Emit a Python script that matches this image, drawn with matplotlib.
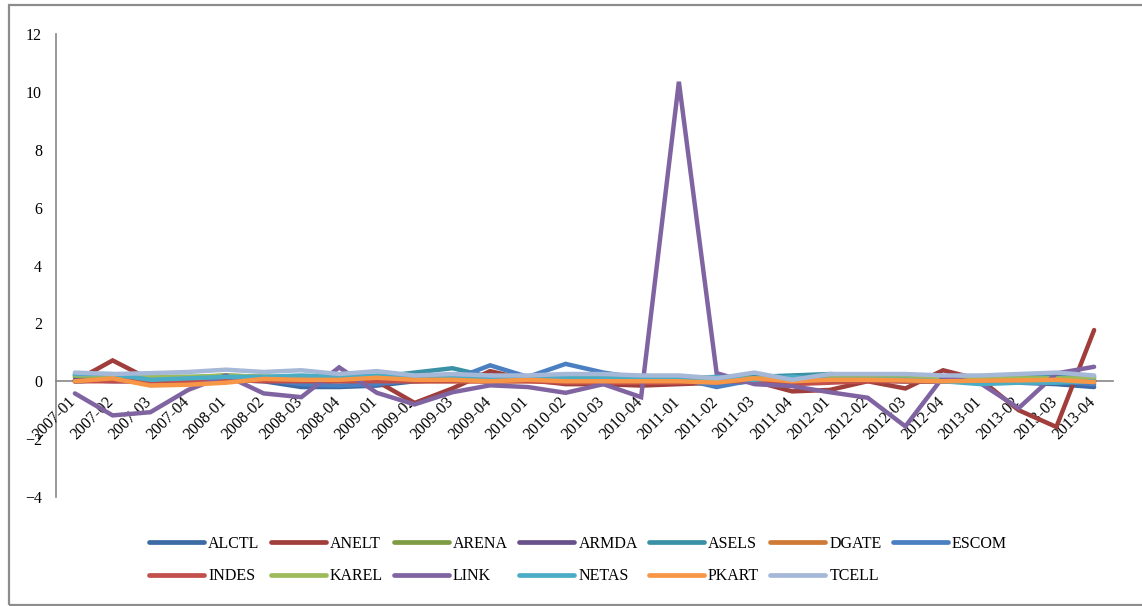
import matplotlib
matplotlib.use("Agg")
import matplotlib.pyplot as plt
import matplotlib.transforms as mtransforms
from matplotlib.patches import Rectangle

plt.rcParams['font.family'] = ['Liberation Serif', 'DejaVu Serif']
plt.rcParams['font.size'] = 11.5

quarters = ['2007-01', '2007-02', '2007-03', '2007-04',
            '2008-01', '2008-02', '2008-03', '2008-04',
            '2009-01', '2009-02', '2009-03', '2009-04',
            '2010-01', '2010-02', '2010-03', '2010-04',
            '2011-01', '2011-02', '2011-03', '2011-04',
            '2012-01', '2012-02', '2012-03', '2012-04',
            '2013-01', '2013-02', '2013-03', '2013-04']

alctl = [0.0, 0.05, 0.05, 0.0, 0.05, 0.0, -0.2, -0.2, -0.15, 0.0, 0.05, 0.0, 0.05, 0.05,
         0.05, 0.0, 0.0, -0.1, 0.0, 0.05, 0.05, 0.05, 0.0, 0.0, 0.0, -0.05, -0.1, -0.2]
anelt = [0.0, 0.72, 0.05, 0.05, 0.2, 0.05, 0.0, 0.05, 0.0, -0.75, -0.25, 0.35, 0.05, -0.1,
         -0.1, -0.15, -0.1, -0.05, 0.0, -0.35, -0.3, 0.0, -0.25, 0.38, 0.05, -1.0, -1.58, 1.77]
arena = [0.15, 0.15, 0.1, 0.12, 0.2, 0.15, 0.1, 0.1, 0.1, 0.1, 0.1, 0.05, 0.05, 0.1,
         0.05, 0.05, 0.05, 0.0, 0.05, 0.05, 0.05, 0.05, 0.05, 0.05, 0.05, 0.05, 0.05, 0.05]
armda = [0.05, 0.0, 0.0, 0.05, 0.1, 0.05, 0.0, 0.05, 0.0, 0.0, 0.05, 0.0, 0.02, 0.0,
         0.0, -0.02, 0.0, 0.0, 0.02, 0.0, 0.0, 0.02, 0.0, 0.0, 0.02, 0.0, 0.0, 0.0]
asels = [0.2, 0.2, 0.15, 0.15, 0.15, 0.15, 0.15, 0.2, 0.15, 0.3, 0.45, 0.15, 0.15, 0.15,
         0.2, 0.15, 0.15, 0.1, 0.15, 0.2, 0.25, 0.2, 0.15, 0.1, 0.15, 0.15, 0.15, 0.15]
dgate = [0.0, 0.05, 0.0, 0.0, 0.05, 0.1, 0.05, 0.0, 0.05, 0.0, 0.0, 0.0, 0.0, 0.0,
         0.0, 0.0, 0.0, 0.0, 0.05, 0.0, 0.0, 0.05, 0.0, 0.0, 0.0, 0.0, 0.0, 0.0]
escom = [0.0, 0.05, 0.05, 0.05, 0.1, 0.05, -0.1, -0.15, -0.1, 0.05, 0.05, 0.55, 0.15, 0.6,
         0.3, 0.1, 0.1, -0.2, 0.05, 0.05, 0.1, 0.1, 0.05, 0.0, 0.05, 0.0, 0.0, -0.1]
indes = [0.0, 0.0, 0.0, 0.0, 0.05, 0.0, 0.0, 0.0, 0.0, 0.0, 0.0, 0.0, 0.0, -0.05,
         -0.05, -0.05, -0.05, 0.0, 0.0, -0.1, -0.05, 0.0, 0.0, 0.0, 0.0, 0.0, 0.0, 0.0]
karel = [0.2, 0.2, 0.15, 0.15, 0.2, 0.15, 0.15, 0.1, 0.15, 0.1, 0.1, 0.1, 0.1, 0.1,
         0.1, 0.1, 0.1, 0.05, 0.1, 0.1, 0.1, 0.1, 0.1, 0.1, 0.1, 0.1, 0.1, 0.1]
link = [-0.42, -1.18, -1.07, -0.3, 0.2, -0.42, -0.55, 0.48, -0.4, -0.8, -0.38, -0.14, -0.2, -0.4,
        -0.1, -0.55, 10.35, 0.28, -0.1, -0.17, -0.38, -0.57, -1.56, 0.15, -0.08, -0.93, 0.27, 0.5]
netas = [0.25, 0.25, 0.05, 0.1, 0.15, 0.15, 0.2, 0.15, 0.2, 0.15, 0.15, 0.15, 0.15, 0.1,
         0.1, 0.1, 0.1, 0.15, 0.05, 0.15, 0.05, 0.05, 0.05, 0.0, -0.1, -0.05, -0.05, 0.0]
pkart = [0.0, 0.1, -0.15, -0.12, -0.05, 0.08, 0.05, 0.05, 0.12, 0.05, 0.05, 0.0, 0.05, 0.0,
         0.0, 0.0, 0.0, -0.05, 0.1, 0.0, 0.05, 0.05, 0.03, 0.0, 0.02, 0.03, 0.05, -0.03]
tcell = [0.3, 0.25, 0.28, 0.32, 0.4, 0.32, 0.38, 0.25, 0.35, 0.2, 0.25, 0.2, 0.2, 0.25,
         0.25, 0.2, 0.2, 0.1, 0.3, 0.05, 0.25, 0.25, 0.25, 0.2, 0.2, 0.25, 0.3, 0.2]

names = ['ALCTL', 'ANELT', 'ARENA', 'ARMDA', 'ASELS', 'DGATE', 'ESCOM',
         'INDES', 'KAREL', 'LINK', 'NETAS', 'PKART', 'TCELL']
series = [alctl, anelt, arena, armda, asels, dgate, escom,
          indes, karel, link, netas, pkart, tcell]
colors = ['#3B6AA4', '#A03E3B', '#7E9C43', '#68508A', '#3A91A5', '#CF7A35', '#4A7FC1',
          '#C24F4C', '#9DBB5A', '#8064A2', '#4BACC6', '#F79646', '#A5B8D8']

fig = plt.figure(figsize=(11.42, 6.06), dpi=100)
ax = fig.add_axes([56 / 1142, 1 - 497 / 606, (1113 - 56) / 1142, (497 - 34) / 606])

x = list(range(len(quarters)))
lines = []
for name, vals, c in zip(names, series, colors):
    ln, = ax.plot(x, vals, color=c, linewidth=3.2, label=name,
                  solid_capstyle='round', solid_joinstyle='miter')
    lines.append(ln)

ax.set_xlim(-0.5, len(quarters) - 0.5)
ax.set_ylim(-4, 12)
ax.set_yticks(range(-4, 13, 2))

# category axis crosses at zero
ax.spines['bottom'].set_position(('data', 0))
for side in ('top', 'right'):
    ax.spines[side].set_visible(False)
for side in ('left', 'bottom'):
    ax.spines[side].set_color('#868686')
    ax.spines[side].set_linewidth(1.2)
    ax.spines[side].set_zorder(0)

ax.tick_params(axis='y', length=0, pad=10)
ax.tick_params(axis='x', length=0, pad=9)
ax.set_xticks(x)
ax.set_xticklabels(quarters, rotation=45, ha='right', va='top', rotation_mode='anchor')
shift = mtransforms.ScaledTranslation(-0.07, 0, fig.dpi_scale_trans)
for lbl in ax.get_xticklabels():
    lbl.set_transform(lbl.get_transform() + shift)

# legend filled row by row: 7 entries on top, 6 below
order = [0, 7, 1, 8, 2, 9, 3, 10, 4, 11, 5, 12, 6]
leg = ax.legend([lines[i] for i in order], [names[i] for i in order],
                loc='center', bbox_to_anchor=(578 / 1142, 1 - 560 / 606),
                bbox_transform=fig.transFigure, ncol=7, frameon=False,
                handlelength=3.45, handletextpad=0.25,
                columnspacing=0.7, labelspacing=1.05)
for h in leg.legend_handles:
    h.set_linewidth(3.4)
    h.set_solid_capstyle('round')

# outer chart border
fig.add_artist(Rectangle((8.5 / 1142, 1.5 / 606), 1.2, 599.5 / 606,
                         transform=fig.transFigure, fill=False,
                         edgecolor='#8C8C8C', linewidth=1.6))

fig.savefig('out.png', dpi=100)
